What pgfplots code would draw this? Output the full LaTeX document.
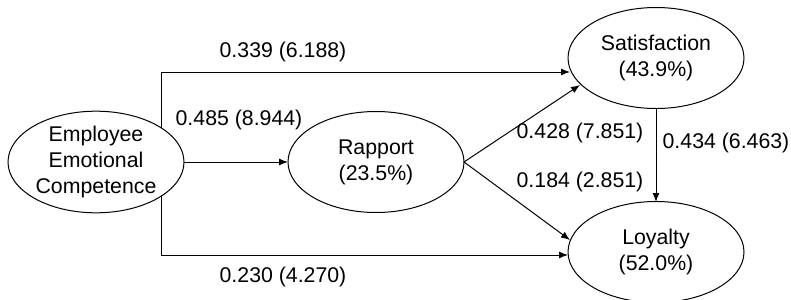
\documentclass[border=0pt]{standalone}
\usepackage{pgfplots}
\pgfplotsset{compat=1.18}
\usepackage{fontspec}
\setmainfont{Liberation Sans}
\usetikzlibrary{arrows.meta,shapes.geometric}
\begin{document}
\begin{tikzpicture}[font=\fontsize{21.3bp}{26bp}\selectfont,
  lat/.style={draw, ellipse, line width=1bp, minimum width=176bp, minimum height=101bp, inner sep=0pt, align=center}]
\begin{axis}[name=ax, scale only axis, width=791bp, height=300bp,
  xmin=0, xmax=791, ymin=0, ymax=300, y dir=reverse,
  axis lines=none, clip=false,
  cycle list={{black, solid, no marks}},
  every axis plot/.append style={line width=1bp, -{Latex[length=9bp,width=7bp]}}]
% paths
\addplot coordinates {(161,128) (161,72) (570,72)};
\addplot coordinates {(161,196) (161,255) (568,255)};
\addplot coordinates {(184,162) (288,162)};
\addplot coordinates {(464,162) (580,85)};
\addplot coordinates {(464,162) (570,240)};
\addplot coordinates {(656,109) (656,202)};
% latent variables
\node[lat] at (axis cs:96,162) {Employee\\Emotional\\Competence};
\node[lat] at (axis cs:376,162) {Rapport\\(23.5\%)};
\node[lat] at (axis cs:656,58) {Satisfaction\\(43.9\%)};
\node[lat] at (axis cs:656,252) {Loyalty\\(52.0\%)};
% coefficients
\node at (axis cs:283,52) {0.339 (6.188)};
\node at (axis cs:239,120) {0.485 (8.944)};
\node at (axis cs:283,277) {0.230 (4.270)};
\node at (axis cs:580,133) {0.428 (7.851)};
\node at (axis cs:580,182) {0.184 (2.851)};
\node at (axis cs:726,143) {0.434 (6.463)};
\end{axis}
\pgfresetboundingbox
\path (ax.south west) rectangle (ax.north east);
\end{tikzpicture}
\end{document}
